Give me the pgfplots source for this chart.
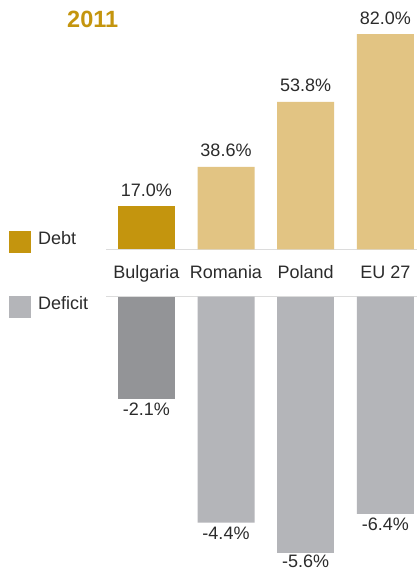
\documentclass[border=0pt]{standalone}
\usepackage{pgfplots}
\pgfplotsset{compat=1.18}
\usepackage{fontspec}
\setmainfont{Liberation Sans}
\definecolor{debtdark}{HTML}{C4950E}
\definecolor{debtlight}{HTML}{E2C483}
\definecolor{defdark}{HTML}{939497}
\definecolor{deflight}{HTML}{B4B5B9}
\definecolor{txt}{HTML}{2B2B2B}
\definecolor{rulec}{HTML}{DCDCDC}
\newcommand{\lblfont}{\fontsize{18bp}{21bp}\selectfont}
\begin{document}
\begin{tikzpicture}[x=1bp,y=1bp]
\useasboundingbox (0,0) rectangle (417,570);
\clip (0,0) rectangle (417,570);
\fill[white] (0,0) rectangle (417,570);
\draw[rulec, line width=1.5bp] (106,320.5) -- (417,320.5);
\draw[rulec, line width=1.5bp] (106,273.5) -- (417,273.5);
% legend
\fill[debtdark] (9,317) rectangle (31,339);
\node[anchor=base west, inner sep=0pt, text=txt, font=\lblfont] at (38,325) {Debt};
\fill[deflight] (9,252) rectangle (31,274);
\node[anchor=base west, inner sep=0pt, text=txt, font=\lblfont] at (38,260) {Deficit};
% year
\node[anchor=base, inner sep=0pt, text=debtdark, font=\bfseries\fontsize{23.5bp}{26bp}\selectfont] at (92.7,542) {2011};

\begin{axis}[
  at={(106.45bp,320.5bp)}, anchor=south west,
  x=79.7bp, y=2.63bp,
  xmin=-0.5, xmax=3.5, ymin=0, ymax=100,
  enlargelimits=false, hide axis, clip=false,
  ybar, bar width=57bp,
  point meta=explicit symbolic,
  nodes near coords,
  every node near coord/.append style={anchor=base, yshift=10bp, inner sep=0pt, font=\lblfont, text=txt},
]
\addplot[fill=debtdark, draw=none, bar shift=0pt] coordinates {(0,16.5) [17.0\%]};
\addplot[fill=debtlight, draw=none, bar shift=0pt] coordinates {(1,31.4) [38.6\%] (2,56.1) [53.8\%] (3,81.9) [82.0\%]};
\node[anchor=base, inner sep=0pt, text=txt, font=\lblfont, yshift=-29.5bp] at (axis cs:0,0) {Bulgaria};
\node[anchor=base, inner sep=0pt, text=txt, font=\lblfont, yshift=-29.5bp] at (axis cs:1,0) {Romania};
\node[anchor=base, inner sep=0pt, text=txt, font=\lblfont, yshift=-29.5bp] at (axis cs:2,0) {Poland};
\node[anchor=base, inner sep=0pt, text=txt, font=\lblfont, yshift=-29.5bp] at (axis cs:3,0) {EU 27};
\end{axis}

\begin{axis}[
  at={(106.45bp,273.3bp)}, anchor=north west,
  x=79.7bp, y=48.7bp,
  xmin=-0.5, xmax=3.5, ymin=-6, ymax=0,
  enlargelimits=false, hide axis, clip=false,
  ybar, bar width=57bp,
  point meta=explicit symbolic,
  nodes near coords,
  every node near coord/.append style={anchor=north, yshift=-4bp, inner sep=0pt, font=\lblfont, text=txt},
]
\addplot[fill=defdark, draw=none, bar shift=0pt] coordinates {(0,-2.1) [-2.1\%]};
\addplot[fill=deflight, draw=none, bar shift=0pt] coordinates {(1,-4.64) [-4.4\%] (3,-4.46) [-6.4\%]};
\addplot[fill=deflight, draw=none, bar shift=0pt,
  every node near coord/.append style={yshift=2.5bp}] coordinates {(2,-5.26) [-5.6\%]};
\end{axis}
\end{tikzpicture}
\end{document}
